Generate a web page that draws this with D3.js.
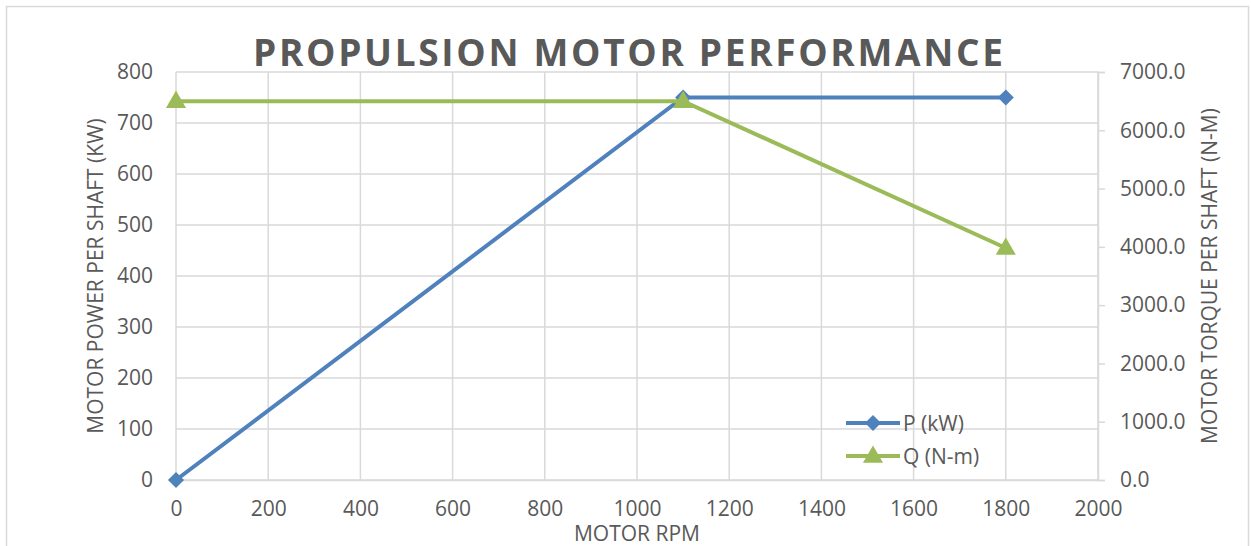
<!DOCTYPE html>
<html>
<head>
<meta charset="utf-8">
<script src="https://cdn.jsdelivr.net/npm/d3@7"></script>
<style>
  body { margin: 0; background: #fff; }
  text { font-family: "Open Sans", sans-serif; fill: #595959; }
  .grid line { stroke: #d9d9d9; stroke-width: 1.5; }
  .axis path, .axis line { stroke: #d9d9d9; stroke-width: 1.5; }
</style>
</head>
<body>
<script>
// chart data
var rpm      = [0, 1100, 1800];
var powerKW  = [0, 750, 750];
var torqueNm = [6500, 6500, 3980];
var seriesNames = ["P (kW)", "Q (N-m)"];
var xTicks  = [0, 200, 400, 600, 800, 1000, 1200, 1400, 1600, 1800, 2000];
var yTicks  = [0, 100, 200, 300, 400, 500, 600, 700, 800];
var y2Ticks = [0, 1000, 2000, 3000, 4000, 5000, 6000, 7000];

var width = 1251, height = 546;
var margin = {left: 176, right: 153, top: 72, bottom: 66};
var blue = "#4f81bd", green = "#9bbb59";
var fontStack = "'Open Sans', sans-serif";
var labelSize = "21px";

var svg = d3.select("body").append("svg")
    .attr("width", width)
    .attr("height", height);

// outer chart border
svg.append("rect")
    .attr("x", 6.5).attr("y", 6.5)
    .attr("width", width - 9).attr("height", height)
    .attr("fill", "none")
    .attr("stroke", "#d9d9d9")
    .attr("stroke-width", 1.5);

var xScale = d3.scaleLinear().domain([0, 2000]).range([margin.left, width - margin.right]);
var yScale = d3.scaleLinear().domain([0, 800]).range([height - margin.bottom, margin.top]);
var y2Scale = d3.scaleLinear().domain([0, 7000]).range([height - margin.bottom, margin.top]);

// gridlines
var grid = svg.append("g").attr("class", "grid");
grid.selectAll(".h").data(yTicks).enter().append("line")
    .attr("x1", xScale(0)).attr("x2", xScale(2000))
    .attr("y1", function(d) { return yScale(d); })
    .attr("y2", function(d) { return yScale(d); });
grid.selectAll(".v").data(xTicks).enter().append("line")
    .attr("y1", yScale(0)).attr("y2", yScale(800))
    .attr("x1", function(d) { return xScale(d); })
    .attr("x2", function(d) { return xScale(d); });

// axes
var xAxis = svg.append("g").attr("class", "axis")
    .attr("transform", "translate(0," + yScale(0) + ")")
    .call(d3.axisBottom(xScale).tickValues(xTicks).tickSize(0).tickPadding(21)
        .tickFormat(d3.format("d")));
var yAxis = svg.append("g").attr("class", "axis")
    .attr("transform", "translate(" + xScale(0) + ",0)")
    .call(d3.axisLeft(yScale).tickValues(yTicks).tickSize(0).tickPadding(23));
var y2Axis = svg.append("g").attr("class", "axis")
    .attr("transform", "translate(" + xScale(2000) + ",0)")
    .call(d3.axisRight(y2Scale).tickValues(y2Ticks).tickSize(7).tickPadding(15)
        .tickFormat(d3.format(".1f")));

[xAxis, yAxis, y2Axis].forEach(function(a) {
    a.selectAll("text").attr("font-size", labelSize).attr("fill", "#595959")
        .style("font-family", fontStack);
});
yAxis.select(".domain").remove();

// title
svg.append("text")
    .attr("x", 253).attr("y", 66)
    .attr("font-size", "37px")
    .attr("font-weight", "bold")
    .attr("textLength", 750)
    .attr("lengthAdjust", "spacing")
    .text("PROPULSION MOTOR PERFORMANCE");

// axis titles
var midY = (yScale(0) + yScale(800)) / 2;
svg.append("text")
    .attr("transform", "translate(103," + midY + ") rotate(-90)")
    .attr("text-anchor", "middle")
    .attr("font-size", labelSize)
    .text("MOTOR POWER PER SHAFT (KW)");
svg.append("text")
    .attr("transform", "translate(1217," + midY + ") rotate(-90)")
    .attr("text-anchor", "middle")
    .attr("font-size", labelSize)
    .text("MOTOR TORQUE PER SHAFT (N-M)");
svg.append("text")
    .attr("x", 637).attr("y", 541)
    .attr("text-anchor", "middle")
    .attr("font-size", labelSize)
    .text("MOTOR RPM");

// series
var pData = rpm.map(function(r, i) { return [r, powerKW[i]]; });
var qData = rpm.map(function(r, i) { return [r, torqueNm[i]]; });

var diamond = d3.symbol().type(d3.symbolDiamond2).size(165);
var triangle = d3.symbol().type(d3.symbolTriangle).size(175);

svg.append("path")
    .datum(pData)
    .attr("fill", "none").attr("stroke", blue).attr("stroke-width", 4)
    .attr("d", d3.line().x(function(d) { return xScale(d[0]); }).y(function(d) { return yScale(d[1]); }));
svg.selectAll(".pMark").data(pData).enter().append("path")
    .attr("class", "pMark")
    .attr("fill", blue)
    .attr("transform", function(d) { return "translate(" + xScale(d[0]) + "," + yScale(d[1]) + ")"; })
    .attr("d", diamond);

svg.append("path")
    .datum(qData)
    .attr("fill", "none").attr("stroke", green).attr("stroke-width", 4)
    .attr("d", d3.line().x(function(d) { return xScale(d[0]); }).y(function(d) { return y2Scale(d[1]); }));
svg.selectAll(".qMark").data(qData).enter().append("path")
    .attr("class", "qMark")
    .attr("fill", green)
    .attr("transform", function(d) { return "translate(" + xScale(d[0]) + "," + (y2Scale(d[1]) + 1) + ")"; })
    .attr("d", triangle);

// legend
var legend = svg.append("g").attr("transform", "translate(846,423)");
var legendItems = [{name: seriesNames[0], color: blue, sym: diamond},
                   {name: seriesNames[1], color: green, sym: triangle}];
legendItems.forEach(function(item, i) {
    var row = legend.append("g").attr("transform", "translate(0," + (i * 33) + ")");
    row.append("line")
        .attr("x1", 0).attr("x2", 54).attr("y1", 0).attr("y2", 0)
        .attr("stroke", item.color).attr("stroke-width", 4);
    row.append("path")
        .attr("transform", "translate(27," + (i ? 1 : 0) + ")")
        .attr("fill", item.color)
        .attr("d", item.sym);
    row.append("text")
        .attr("x", 57).attr("y", 8)
        .attr("font-size", labelSize)
        .text(item.name);
});
</script>
</body>
</html>
